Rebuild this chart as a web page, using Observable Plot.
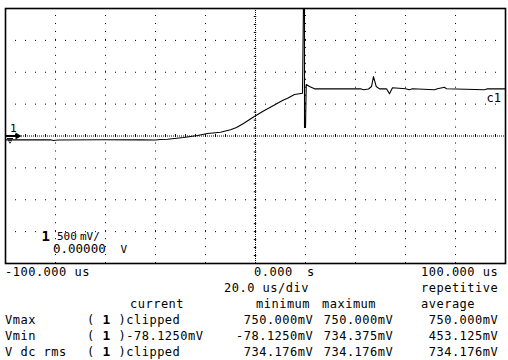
<!DOCTYPE html>
<html>
<head>
<meta charset="utf-8">
<script src="https://cdn.jsdelivr.net/npm/d3@7"></script>
<script src="https://cdn.jsdelivr.net/npm/@observablehq/plot@0.6"></script>
<style>
  html, body { margin: 0; padding: 0; background: #fff; }
  #wrap { position: relative; width: 508px; height: 360px; overflow: hidden; font-family: "DejaVu Sans Mono", monospace; color: #000; }
  #wrap svg { position: absolute; left: 0; top: 0; }
  .t { position: absolute; font-size: 12px; line-height: 12px; letter-spacing: 0.5px; white-space: pre; }
  .t b { font-size: 13px; }
</style>
</head>
<body>
<div id="wrap"></div>
<script>
// ---- trace data (time in µs, level in mV) ----
const times = [-100, -82, -80.8, -79.2, -62, -46, -40, -38, -35.2, -28.8, -23.2, -19.2, -14, -10, -7.6, -4.8, -0.8, 3.2, 7.2, 10.8, 12.8, 15.6, 18.8,
  19.2, 19.6, 19.6, 20, 20.3, 21.6, 23.6, 42, 43.2, 45.2, 46.4, 47.2, 48.3, 49.6, 52.4, 53.6, 54.8, 60, 61.6, 62.8, 71.6, 72.8, 75.6, 76.4, 91.6, 92.8, 100];
const millivolts = [-60, -60, -70, -63, -60, -60, -63, -55, -50, -24, 8, 39, 60, 97, 133, 196, 298, 392, 478, 557, 593, 651, 671,
  2100, 2100, 133, 133, 808, 776, 740, 740, 725, 737, 776, 933, 776, 740, 740, 662, 756, 740, 725, 740, 725, 740, 765, 740, 725, 740, 740];

// ---- screen graticule ----
const timeDomain = [-100, 100];       // µs, 20 µs/div
const levelDomain = [-2000, 2000];    // mV, 500 mV/div
const timeGrid = [-80, -60, -40, -20, 20, 40, 60, 80];
const levelGrid = [-1500, -1000, -500, 500, 1000, 1500];

// ---- screen annotations ----
const channelLabel = "1";
const traceLabel = "c1";
const scaleLabel = "500";
const scaleUnit = "mV/";
const offsetLabel = "0.00000";
const offsetUnit = "V";

// ---- readout texts ----
const timeLeft = "-100.000 us";
const timeCenter = "0.000";
const timeCenterUnit = "s";
const timeRight = "100.000 us";
const timeBase = "20.0 us/div";
const acqMode = "repetitive";
const colHeads = ["current", "minimum", "maximum", "average"];
const statNames = ["Vmax", "Vmin", "V dc rms"];
const currentVals = ["clipped", "-78.1250mV", "clipped"];
const minimumVals = ["750.000mV", "-78.1250mV", "734.176mV"];
const maximumVals = ["750.000mV", "734.375mV", "734.176mV"];
const averageVals = ["750.000mV", "453.125mV", "734.176mV"];

const trace = times.map((t, i) => ({t, v: millivolts[i]}));
const centerTicksX = d3.range(-100, 100.01, 4);
const centerTicksY = d3.range(-2000, 2000.01, 125);

const mono = "DejaVu Sans Mono, monospace";

const chart = Plot.plot({
  width: 508,
  height: 265,
  marginLeft: 5,
  marginRight: 3,
  marginTop: 8,
  marginBottom: 2,
  x: {domain: timeDomain, axis: null},
  y: {domain: levelDomain, axis: null},
  style: {fontFamily: mono, background: "white", overflow: "visible"},
  marks: [
    Plot.ruleX(timeGrid, {stroke: "black", strokeWidth: 1, strokeDasharray: "1,6.97", strokeDashoffset: -7}),
    Plot.ruleY(levelGrid, {stroke: "black", strokeWidth: 1, strokeDasharray: "1,9", strokeDashoffset: -10}),
    Plot.ruleX([0], {stroke: "black", strokeWidth: 1, strokeDasharray: "1,1"}),
    Plot.ruleY([0], {stroke: "black", strokeWidth: 1, strokeDasharray: "1,1"}),
    Plot.ruleX(centerTicksX, {y1: -24, y2: 24, stroke: "black", strokeWidth: 1}),
    Plot.ruleY(centerTicksY, {x1: -0.5, x2: 0.5, stroke: "black", strokeWidth: 1}),
    Plot.line(trace, {x: "t", y: "v", stroke: "black", strokeWidth: 1.1, clip: true}),
    // channel marker: label, arrow and ground symbol
    Plot.text([channelLabel], {x: -98.2, y: 125, text: d => d, fontSize: 11, textAnchor: "start", fill: "black"}),
    Plot.ruleY([0], {x1: -99.6, x2: -95.8, stroke: "black", strokeWidth: 2}),
    Plot.dot([0], {x: -95.2, y: 0, symbol: "triangle", r: 2.6, rotate: 90, fill: "black", stroke: "none"}),
    Plot.ruleY([-40], {x1: -99.2, x2: -96.8, stroke: "black", strokeWidth: 1}),
    Plot.ruleY([-75], {x1: -98.8, x2: -97.2, stroke: "black", strokeWidth: 1}),
    Plot.ruleY([-105], {x1: -98.4, x2: -97.6, stroke: "black", strokeWidth: 1}),
    Plot.text([traceLabel], {x: 92.4, y: 600, text: d => d, fontSize: 12, textAnchor: "start", fill: "black"}),
    Plot.text([channelLabel], {x: -85.6, y: -1570, text: d => d, fontSize: 14, fontWeight: "bold", textAnchor: "start", fill: "black"}),
    Plot.text([scaleLabel], {x: -79.4, y: -1570, text: d => d, fontSize: 11, textAnchor: "start", fill: "black"}),
    Plot.text([scaleUnit], {x: -70.2, y: -1570, text: d => d, fontSize: 11, textAnchor: "start", fill: "black"}),
    Plot.text([offsetLabel], {x: -81, y: -1775, text: d => d, fontSize: 12.5, textAnchor: "start", fill: "black"}),
    Plot.text([offsetUnit], {x: -54, y: -1775, text: d => d, fontSize: 11, textAnchor: "start", fill: "black"}),
    Plot.frame({stroke: "black", strokeWidth: 1.6})
  ]
});

const wrap = document.getElementById("wrap");
wrap.appendChild(chart);

function put(text, x, baseline) {
  const d = document.createElement("div");
  d.className = "t";
  d.innerHTML = text;
  d.style.top = (baseline - 10) + "px";
  d.style.left = x + "px";
  wrap.appendChild(d);
}
const pad = v => (v.startsWith("-") ? v : " " + v);

const rows = [276, 292, 308, 324, 340, 356];
put(timeLeft, 5, rows[0]);
put(timeCenter, 254, rows[0]);
put(timeCenterUnit, 307, rows[0]);
put(timeRight, 421, rows[0]);
put(timeBase, 224, rows[1]);
put(acqMode, 421, rows[1]);
put(colHeads[0], 130, rows[2]);
put(colHeads[1], 256, rows[2]);
put(colHeads[2], 322, rows[2]);
put(colHeads[3], 421, rows[2]);
statNames.forEach((name, i) => {
  const b = rows[3 + i];
  put(name, 5, b);
  put("( <b>1</b> )" + currentVals[i], 87, b);
  put(pad(minimumVals[i]), 236, b);
  put(pad(maximumVals[i]), 316, b);
  put(pad(averageVals[i]), 421, b);
});
</script>
</body>
</html>
